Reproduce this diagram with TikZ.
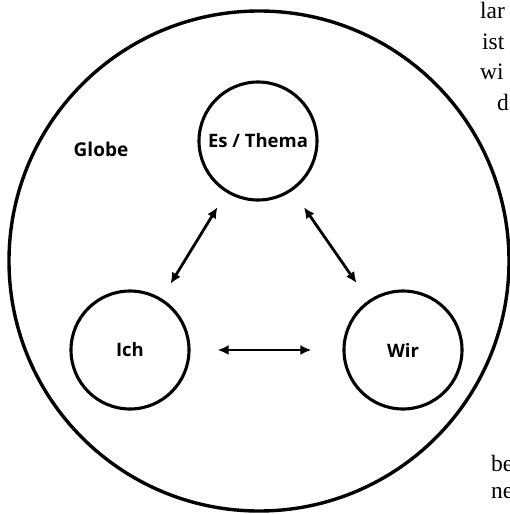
\documentclass[tikz,border=0pt]{standalone}
\usepackage{fontspec}
\setmainfont{Open Sans}
\newfontfamily\pageserif{Liberation Serif}
\usetikzlibrary{arrows.meta}
\begin{document}
\begin{tikzpicture}[x=1pt,y=-1pt,
  globeline/.style={line width=3.4pt},
  ring/.style={circle,draw,line width=3.1pt,minimum size=118pt,inner sep=0pt,font=\fontsize{18.5}{20}\selectfont\bfseries},
  link/.style={line width=2.8pt,{Latex[length=11pt,width=10pt]}-{Latex[length=11pt,width=10pt]}},
  lbl/.style={font=\fontsize{19}{21}\selectfont\bfseries},
  pagetext/.style={font=\pageserif\fontsize{23.5}{25}\selectfont,anchor=base west,inner sep=0pt}]
\useasboundingbox (0,0) rectangle (510,514);
\begin{scope}
\clip (0,0) rectangle (510,514);
\node[globeline,circle,draw,minimum size=500pt,inner sep=0pt] (globe) at (259,261) {};
\node[ring] (es) at (258,141) {Es / Thema};
\node[ring] (ich) at (130,350) {Ich};
\node[ring] (wir) at (403,350) {Wir};
\node[lbl] (globelbl) at (101,149) {Globe};
\draw[link,shorten <=17pt,shorten >=17pt] (es) -- (ich);
\draw[link,shorten <=20pt,shorten >=21pt] (es) -- (wir);
\draw[link,shorten <=27pt,shorten >=31pt] (ich) -- (wir);
\node[pagetext] (t1) at (480,19) {lar};
\node[pagetext] (t2) at (482,49) {ist};
\node[pagetext] (t3) at (480,79) {wi};
\node[pagetext] (t4) at (497,110) {d};
\node[pagetext] (t5) at (491,471) {be};
\node[pagetext] (t6) at (491,498) {ne};
\end{scope}
\end{tikzpicture}
\end{document}
